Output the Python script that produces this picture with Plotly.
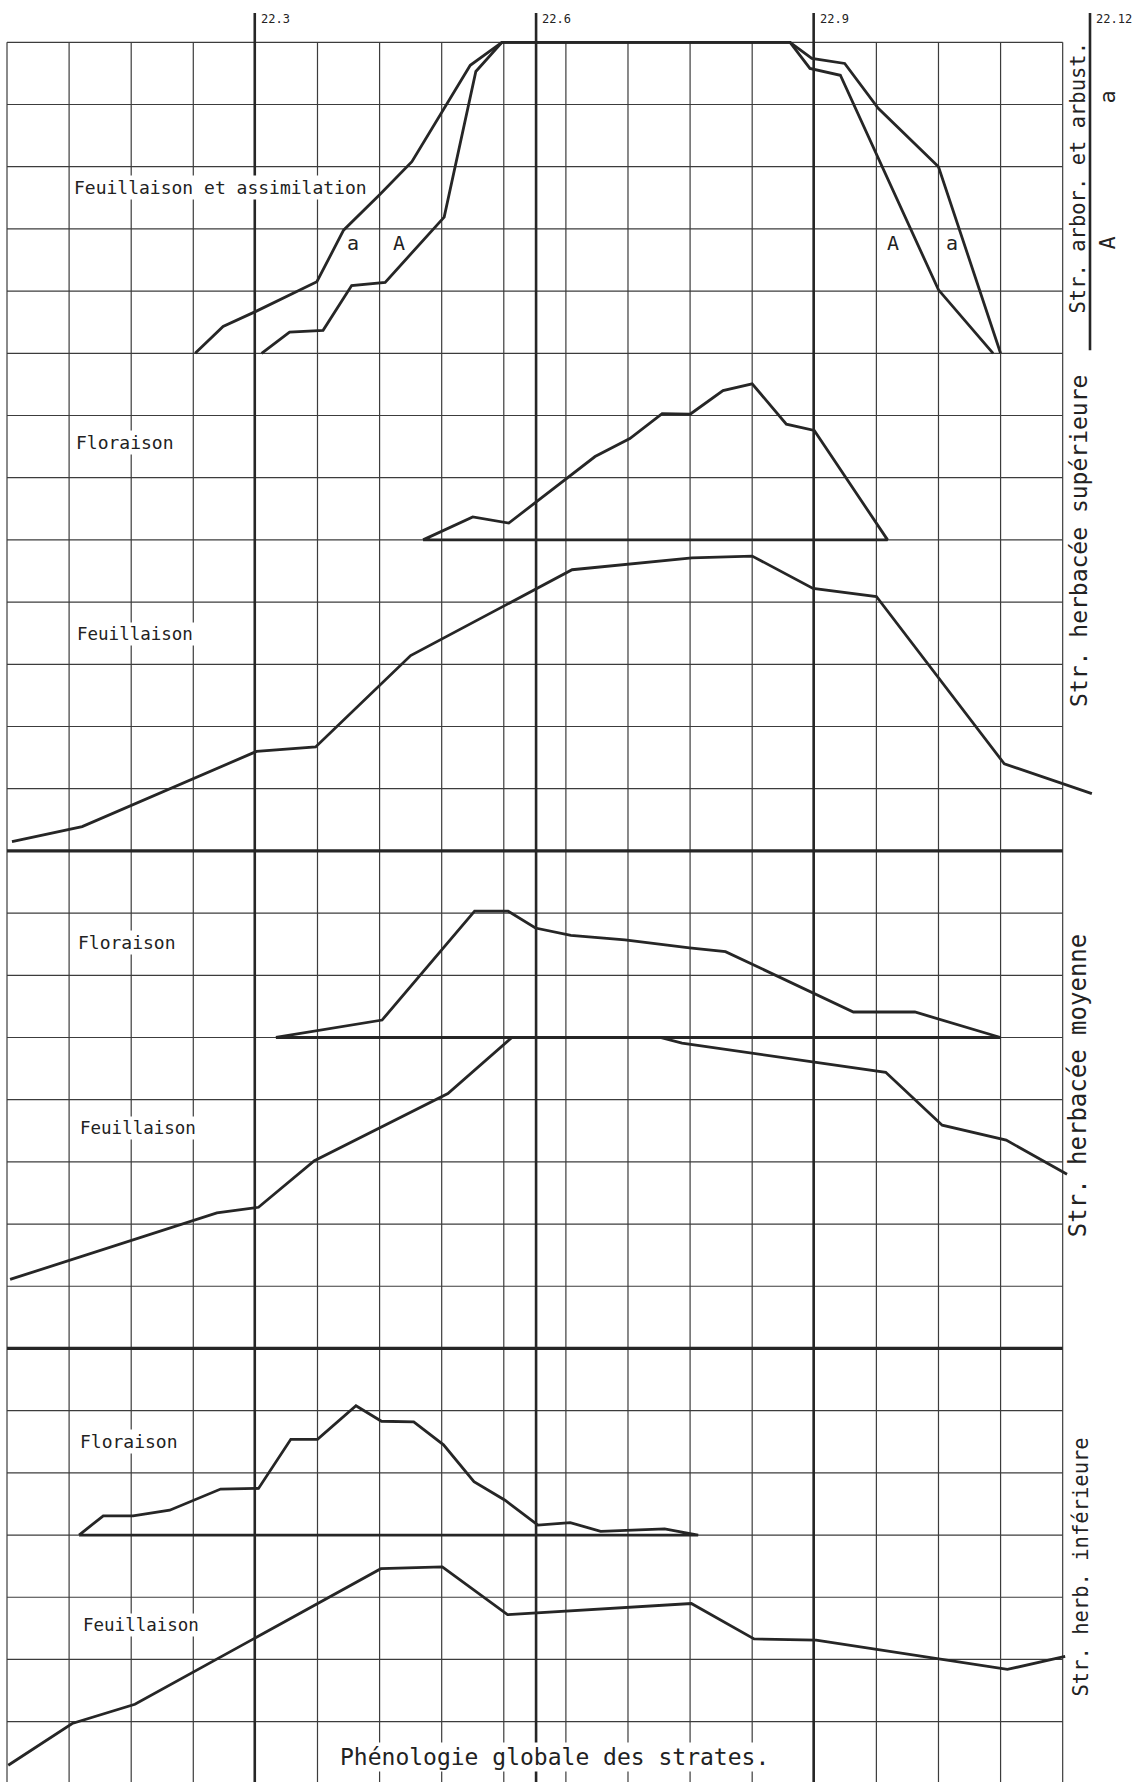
import plotly.graph_objects as go

# ---------------- data (x: time in grid columns, v: height in grid squares above panel baseline)
# Panel baselines (grid row index, counted downward from the top line)
base_arbor = 5
base_flo_sup = 8
base_feu_sup = 13
base_flo_moy = 16
base_feu_moy = 21
base_flo_inf = 24
base_feu_inf = 28

# Str. arbor. et arbust. : curve "a" and curve "A"
arb_a_x = [3.03, 3.48, 4.00, 4.99, 5.42, 6.00, 6.52, 7.46, 7.97, 12.61, 12.96, 13.49, 14.03, 15.00, 16.00]
arb_a_v = [0.00, 0.43, 0.67, 1.15, 1.98, 2.55, 3.08, 4.63, 5.00, 5.00, 4.74, 4.66, 3.94, 3.00, 0.00]
arb_A_x = [4.10, 4.55, 5.09, 5.55, 6.09, 7.04, 7.55, 7.97, 12.61, 12.93, 13.42, 15.00, 15.88]
arb_A_v = [0.00, 0.34, 0.37, 1.09, 1.14, 2.19, 4.53, 5.00, 5.00, 4.58, 4.47, 1.02, 0.00]

# Str. herbacée supérieure
flo_sup_x = [6.70, 7.50, 8.08, 9.47, 10.03, 10.55, 11.00, 11.53, 12.00, 12.55, 13.00, 14.18]
flo_sup_v = [0.00, 0.37, 0.27, 1.34, 1.63, 2.03, 2.02, 2.40, 2.51, 1.86, 1.76, 0.00]
feu_sup_x = [0.08, 1.21, 4.02, 4.97, 6.50, 9.10, 11.03, 12.00, 12.98, 14.00, 16.06, 17.47]
feu_sup_v = [0.15, 0.39, 1.60, 1.67, 3.14, 4.52, 4.71, 4.74, 4.22, 4.09, 1.40, 0.92]

# Str. herbacée moyenne
flo_moy_x = [4.33, 6.04, 7.53, 8.07, 8.51, 9.08, 9.95, 10.99, 11.57, 13.63, 14.62, 16.00]
flo_moy_v = [0.00, 0.28, 2.03, 2.03, 1.76, 1.64, 1.57, 1.44, 1.38, 0.41, 0.41, 0.00]
feu_moy_x = [0.05, 3.38, 4.05, 4.95, 7.10, 8.13, 10.52, 10.87, 14.15, 15.06, 16.09, 17.07]
feu_moy_v = [1.11, 2.18, 2.27, 3.02, 4.10, 5.00, 5.00, 4.91, 4.44, 3.59, 3.35, 2.80]

# Str. herb. inférieure
flo_inf_x = [1.16, 1.55, 2.03, 2.62, 3.44, 4.05, 4.57, 5.00, 5.62, 6.03, 6.55, 7.03, 7.52, 8.02, 8.55, 9.07, 9.56, 10.59, 11.13]
flo_inf_v = [0.00, 0.31, 0.31, 0.40, 0.74, 0.75, 1.54, 1.54, 2.08, 1.83, 1.82, 1.45, 0.86, 0.56, 0.16, 0.20, 0.06, 0.10, 0.00]
feu_inf_x = [0.02, 1.05, 2.06, 6.02, 7.01, 8.06, 11.02, 12.03, 13.03, 16.11, 17.04]
feu_inf_v = [0.30, 0.97, 1.28, 3.46, 3.49, 2.72, 2.90, 2.33, 2.31, 1.84, 2.05]

# date reference lines (position in grid columns) and their labels
date_labels = ["22.3", "22.6", "22.9", "22.12"]
date_pos = [3.99, 8.52, 12.99, 17.44]
date_end = [28, 28, 28, 4.95]

n_cols = 17
n_rows = 28
thick_rows = [13, 21]

INK = "#262626"
GRID = "#3c3c3c"
FONT = "DejaVu Sans Mono"

fig = go.Figure()

# ---- thin grid
gx, gy = [], []
for k in range(n_cols + 1):
    gx += [k, k, None]
    gy += [0, n_rows, None]
for j in range(n_rows):
    if j in thick_rows:
        continue
    gx += [0, n_cols, None]
    gy += [j, j, None]
fig.add_trace(go.Scatter(x=gx, y=gy, mode="lines", line=dict(color=GRID, width=1.2), hoverinfo="skip"))

# ---- thick separators
sx, sy = [], []
for j in thick_rows:
    sx += [0, n_cols, None]
    sy += [j, j, None]
fig.add_trace(go.Scatter(x=sx, y=sy, mode="lines", line=dict(color=INK, width=3.2), hoverinfo="skip"))

# ---- date lines
dx, dy = [], []
for p, e in zip(date_pos, date_end):
    dx += [p, p, None]
    dy += [-0.47, e, None]
fig.add_trace(go.Scatter(x=dx, y=dy, mode="lines", line=dict(color=INK, width=2.6), hoverinfo="skip"))


def curve(xs, vs, base, closed=False):
    x = list(xs)
    y = [base - v for v in vs]
    if closed:
        x.append(xs[0])
        y.append(base - vs[0])
    fig.add_trace(go.Scatter(x=x, y=y, mode="lines",
                             line=dict(color=INK, width=2.8), hoverinfo="skip"))


curve(arb_a_x, arb_a_v, base_arbor)
curve(arb_A_x, arb_A_v, base_arbor)
curve(flo_sup_x, flo_sup_v, base_flo_sup, closed=True)
curve(feu_sup_x, feu_sup_v, base_feu_sup)
curve(flo_moy_x, flo_moy_v, base_flo_moy, closed=True)
curve(feu_moy_x, feu_moy_v, base_feu_moy)
curve(flo_inf_x, flo_inf_v, base_flo_inf, closed=True)
curve(feu_inf_x, feu_inf_v, base_feu_inf)

ann = []


def label(text, x, y, size=18, xanchor="left", angle=0, bg=True):
    ann.append(dict(text=text, x=x, y=y, xref="x", yref="y", showarrow=False,
                    xanchor=xanchor, yanchor="middle", textangle=angle,
                    font=dict(family=FONT, size=size, color="#222"),
                    bgcolor="white" if bg else None, borderpad=1))


label("Feuillaison et assimilation", 1.04, 2.34, 18)
label("a", 5.57, 3.23, 20, "center", bg=False)
label("A", 6.31, 3.23, 20, "center", bg=False)
label("A", 14.27, 3.23, 20, "center", bg=False)
label("a", 15.22, 3.23, 20, "center", bg=False)
label("Floraison", 1.08, 6.44, 18)
label("Feuillaison", 1.09, 9.51, 17.5)
label("Floraison", 1.11, 14.48, 18)
label("Feuillaison", 1.14, 17.45, 17.5)
label("Floraison", 1.14, 22.49, 18)
label("Feuillaison", 1.19, 25.45, 17.5)
label("Phénologie globale des strates.", 8.82, 27.57, 23, "center")

label("Str. arbor. et arbust.", 17.25, 2.17, 20.5, "center", -90, bg=False)
label("a", 17.72, 0.88, 22, "center", -90, bg=False)
label("A", 17.72, 3.23, 22, "center", -90, bg=False)
label("Str. herbacée supérieure", 17.26, 8.02, 23, "center", -90, bg=False)
label("Str. herbacée moyenne", 17.25, 16.78, 24, "center", -90, bg=False)
label("Str. herb. inférieure", 17.29, 24.51, 20.5, "center", -90, bg=False)

for t, p in zip(date_labels, date_pos):
    ann.append(dict(text=t, x=p, y=-0.38, xref="x", yref="y", showarrow=False,
                    xanchor="left", yanchor="middle", xshift=4,
                    font=dict(family=FONT, size=12, color="#222")))

fig.update_layout(
    width=1148, height=1782,
    margin=dict(l=0, r=0, t=0, b=0),
    paper_bgcolor="white", plot_bgcolor="white",
    showlegend=False,
    xaxis=dict(range=[-0.1127, 18.374], visible=False, fixedrange=True),
    yaxis=dict(range=[27.97, -0.68], visible=False, fixedrange=True),
    annotations=ann,
)

fig.write_html("out.html", config={"displayModeBar": False},
               post_script="document.body.style.margin='0';document.body.style.overflow='hidden';")
